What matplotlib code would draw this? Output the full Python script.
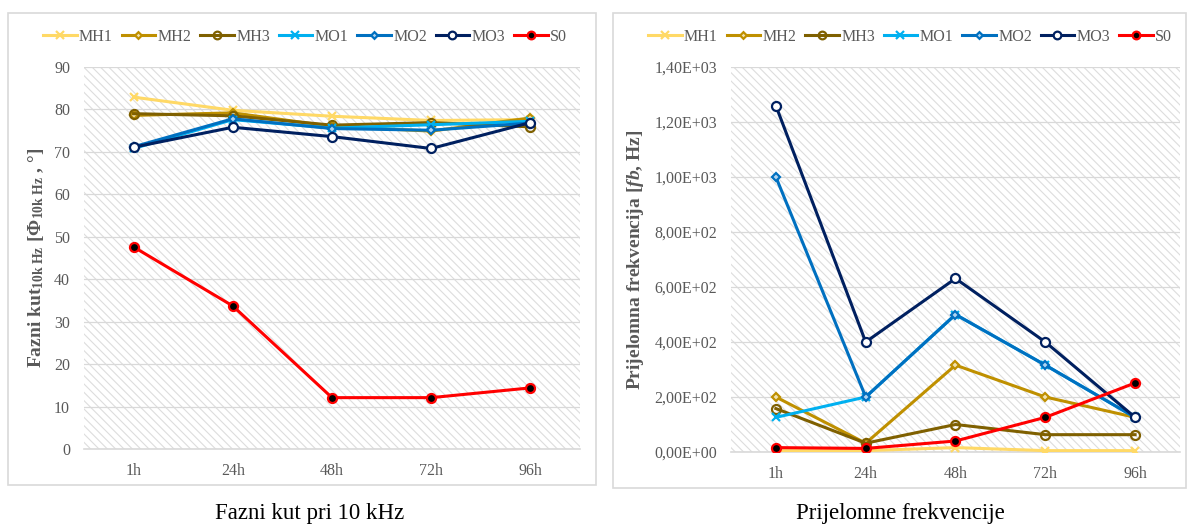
import matplotlib
matplotlib.use("Agg")
import matplotlib.pyplot as plt
from matplotlib.patches import Rectangle
from matplotlib.ticker import FuncFormatter

plt.rcParams['font.family'] = ['Liberation Serif', 'DejaVu Serif']
plt.rcParams['mathtext.fontset'] = 'custom'
plt.rcParams['mathtext.rm'] = 'Liberation Serif'
plt.rcParams['mathtext.it'] = 'Liberation Serif:italic'
plt.rcParams['mathtext.bf'] = 'Liberation Serif:bold'
plt.rcParams['mathtext.bfit'] = 'Liberation Serif:bold:italic'
plt.rcParams['hatch.color'] = '#DDDDDD'
plt.rcParams['hatch.linewidth'] = 0.8

categories = ['1h', '24h', '48h', '72h', '96h']
series_names = ['MH1', 'MH2', 'MH3', 'MO1', 'MO2', 'MO3', 'S0']

# phase angle at 10 kHz (deg)
phase = {
    'MH1': [82.9, 79.8, 78.4, 77.4, 77.6],
    'MH2': [78.6, 79.2, 76.0, 74.9, 78.0],
    'MH3': [79.0, 78.5, 76.3, 76.9, 75.9],
    'MO1': [70.8, 77.6, 75.6, 76.4, 77.2],
    'MO2': [71.2, 77.8, 75.5, 75.1, 76.8],
    'MO3': [71.1, 75.8, 73.6, 70.8, 76.9],
    'S0':  [47.6, 33.7, 12.1, 12.1, 14.4],
}

# break frequencies (Hz)
freq = {
    'MH1': [5, 5, 16, 5, 5],
    'MH2': [200, 32, 316, 200, 126],
    'MH3': [158, 32, 100, 63, 63],
    'MO1': [126, 200, 500, 316, 126],
    'MO2': [1000, 200, 500, 316, 126],
    'MO3': [1259, 400, 631, 400, 126],
    'S0':  [16, 13, 40, 126, 251],
}

styles = {
    'MH1': dict(color='#FFD966', marker='x', mfc='#FFD966', ms=6),
    'MH2': dict(color='#BF9000', marker='D', mfc='#F2E2B0', ms=4),
    'MH3': dict(color='#7F6000', marker='o', mfc='none', ms=6.5),
    'MO1': dict(color='#00B0F0', marker='x', mfc='#00B0F0', ms=6),
    'MO2': dict(color='#0070C0', marker='D', mfc='#B0D4F0', ms=4),
    'MO3': dict(color='#002060', marker='o', mfc='white', ms=6.5),
    'S0':  dict(color='#FF0000', marker='o', mfc='black', ms=6.5),
}

grey = '#595959'
W, H = 1188, 526
fig = plt.figure(figsize=(W / 100, H / 100), dpi=100)


def box(x0, y0, x1, y1):
    fig.patches.append(Rectangle((x0 / W, 1 - y1 / H), (x1 - x0) / W, (y1 - y0) / H,
                                 transform=fig.transFigure, fill=False,
                                 edgecolor='#D9D9D9', linewidth=1.2))


def panel(rect, data, ylim, yticks, fmt, ylabel, caption, cap_x, leg_x):
    x0, y0, x1, y1 = rect
    ax = fig.add_axes([x0 / W, 1 - y1 / H, (x1 - x0) / W, (y1 - y0) / H])
    ax.add_patch(Rectangle((0, 0), 1, 1, transform=ax.transAxes, facecolor='white',
                           hatch='\\\\\\\\', edgecolor='#DDDDDD', linewidth=0, zorder=0))
    xs = range(len(categories))
    for name in series_names:
        st = styles[name]
        ax.plot(xs, data[name], color=st['color'], lw=2.2, marker=st['marker'],
                ms=st['ms'], mfc=st['mfc'], mec=st['color'], mew=1.6,
                label=name, zorder=3)
    ax.set_xlim(-0.5, len(categories) - 0.5)
    ax.set_ylim(*ylim)
    ax.set_yticks(yticks)
    ax.yaxis.set_major_formatter(FuncFormatter(fmt))
    ax.set_xticks(list(xs))
    ax.set_xticklabels(categories)
    ax.grid(axis='y', color='#D9D9D9', lw=0.9, zorder=1)
    ax.set_axisbelow(True)
    for s in ['top', 'right', 'left']:
        ax.spines[s].set_visible(False)
    ax.spines['bottom'].set_color('#D9D9D9')
    ax.spines['bottom'].set_linewidth(1.2)
    ax.tick_params(length=0, colors=grey, labelsize=11.5, pad=10)
    ax.set_ylabel(ylabel, fontsize=14, fontweight='bold', color=grey, labelpad=6)
    ax.legend(loc='center', bbox_to_anchor=(leg_x / W, 1 - 37 / H),
              bbox_transform=fig.transFigure, ncol=7, frameon=False,
              fontsize=11.5, handlelength=2.1, handletextpad=0.15, columnspacing=0.55,
              labelcolor=grey, markerscale=0.85)
    fig.text(cap_x / W, 1 - 514 / H, caption, ha='center', va='center', fontsize=16.5)
    return ax


panel((84, 67, 580, 449), phase, (0, 90), range(0, 91, 10),
      lambda v, p: f'{v:.0f}',
      r'Fazni kut$_{\mathbf{10k\ Hz}}$ [$\mathbf{\Phi}_{\mathbf{10k\ Hz}}$ , °]',
      'Fazni kut pri 10 kHz', 310, 305)
panel((731, 67, 1180, 452), freq, (0, 1400), range(0, 1401, 200),
      lambda v, p: f'{v:.2E}'.replace('.', ','),
      r'Prijelomna frekvencija [$\mathbfit{fb}$, Hz]',
      'Prijelomne frekvencije', 900, 910)

box(8, 13, 596, 485)
box(613, 13, 1186, 488)

fig.savefig('out.png', dpi=100)
